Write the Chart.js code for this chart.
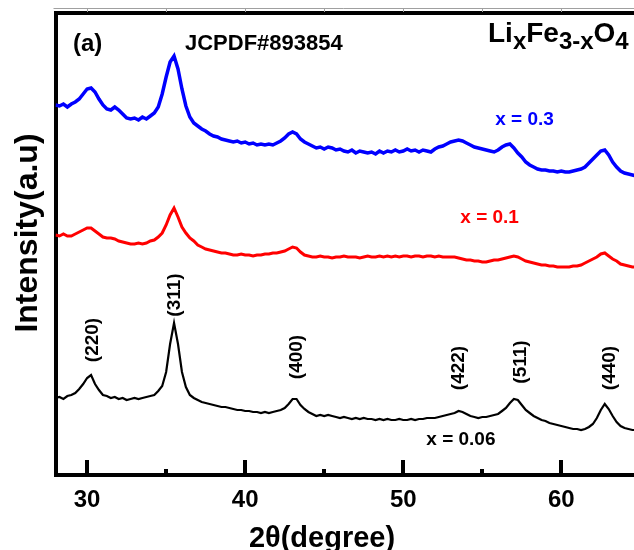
<!DOCTYPE html>
<html>
<head>
<meta charset="utf-8">
<script src="https://cdn.jsdelivr.net/npm/chart.js@4.4.1/dist/chart.umd.min.js"></script>
<style>
  html, body { margin: 0; padding: 0; background: #fff; }
  #wrap { width: 634px; height: 550px; }
</style>
</head>
<body>
<div id="wrap"><canvas id="xrd" width="634" height="550"></canvas></div>
<script>
// 2theta grid (degree), one row per degree
var twoTheta = [
  28, 28.25, 28.5, 28.75,  29, 29.25, 29.5, 29.75,  30, 30.25, 30.5, 30.75,
  31, 31.25, 31.5, 31.75,  32, 32.25, 32.5, 32.75,  33, 33.25, 33.5, 33.75,
  34, 34.25, 34.5, 34.75,  35, 35.25, 35.5, 35.75,  36, 36.25, 36.5, 36.75,
  37, 37.25, 37.5, 37.75,  38, 38.25, 38.5, 38.75,  39, 39.25, 39.5, 39.75,
  40, 40.25, 40.5, 40.75,  41, 41.25, 41.5, 41.75,  42, 42.25, 42.5, 42.75,
  43, 43.25, 43.5, 43.75,  44, 44.25, 44.5, 44.75,  45, 45.25, 45.5, 45.75,
  46, 46.25, 46.5, 46.75,  47, 47.25, 47.5, 47.75,  48, 48.25, 48.5, 48.75,
  49, 49.25, 49.5, 49.75,  50, 50.25, 50.5, 50.75,  51, 51.25, 51.5, 51.75,
  52, 52.25, 52.5, 52.75,  53, 53.25, 53.5, 53.75,  54, 54.25, 54.5, 54.75,
  55, 55.25, 55.5, 55.75,  56, 56.25, 56.5, 56.75,  57, 57.25, 57.5, 57.75,
  58, 58.25, 58.5, 58.75,  59, 59.25, 59.5, 59.75,  60, 60.25, 60.5, 60.75,
  61, 61.25, 61.5, 61.75,  62, 62.25, 62.5, 62.75,  63, 63.25, 63.5, 63.75,
  64, 64.25, 64.5, 64.75
];

// intensity (a.u.), stacked offsets as in the figure
var intensityX006 = [
  77, 78, 76, 79,  80, 82, 86, 91,  97, 100, 91, 85,
  80, 79, 77, 78,  76, 77, 75, 76,  77, 76, 77, 78,
  79, 80, 84, 89,  103, 131, 152, 131,  103, 88, 80, 77,
  75, 73, 72, 71,  70, 69, 68, 68,  67, 66, 65, 65,
  64, 64, 63, 63,  62, 63, 62, 63,  64, 65, 67, 71,
  76, 76, 70, 66,  63, 61, 59, 60,  59, 60, 59, 58,
  57, 58, 57, 56,  57, 56, 57, 56,  56, 55, 56, 55,
  56, 55, 55, 56,  55, 55, 56, 55,  56, 56, 57, 57,
  57, 58, 59, 60,  61, 62, 64, 63,  61, 59, 58, 57,
  58, 58, 59, 60,  61, 64, 67, 72,  76, 75, 70, 65,
  62, 59, 57, 55,  54, 52, 51, 50,  49, 48, 47, 46,
  46, 45, 46, 48,  51, 57, 65, 71,  66, 59, 53, 49,
  47, 46, 45, 45
];

var intensityX01 = [
  240, 239, 241, 239,  239, 241, 243, 245,  247, 247, 244, 241,
  238, 237, 237, 236,  234, 233, 232, 231,  231, 232, 231, 232,
  234, 235, 238, 242,  250, 260, 267, 258,  248, 242, 237, 234,
  230, 228, 226, 225,  224, 223, 222, 222,  221, 220, 220, 221,
  220, 220, 219, 220,  220, 221, 221, 222,  222, 223, 224, 226,
  228, 227, 223, 220,  219, 218, 218, 219,  218, 218, 217, 218,
  218, 219, 218, 218,  218, 217, 218, 219,  218, 218, 219, 218,
  219, 218, 219, 218,  219, 219, 218, 219,  219, 218, 219, 219,
  218, 219, 218, 218,  218, 218, 217, 216,  215, 215, 214, 214,
  213, 213, 214, 215,  215, 216, 217, 218,  219, 218, 216, 214,
  213, 212, 211, 210,  210, 209, 209, 208,  208, 208, 208, 209,
  209, 210, 212, 214,  216, 218, 221, 222,  219, 216, 214, 211,
  210, 209, 208, 208
];

var intensityX03 = [
  370, 369, 371, 368,  371, 373, 376, 381,  386, 387, 383, 376,
  370, 366, 365, 368,  365, 361, 357, 356,  357, 355, 358, 356,
  359, 362, 368, 381,  398, 413, 419, 406,  386, 369, 358, 352,
  349, 346, 344, 341,  339, 338, 336, 335,  334, 333, 334, 332,
  333, 331, 332, 330,  331, 330, 331, 330,  332, 334, 337, 341,
  343, 341, 336, 333,  331, 329, 327, 328,  326, 328, 327, 325,
  326, 324, 323, 325,  322, 324, 323, 322,  323, 321, 324, 322,
  324, 323, 325, 323,  324, 326, 324, 325,  323, 325, 324, 323,
  326, 328, 329, 331,  333, 334, 335, 334,  332, 330, 328, 327,
  326, 325, 324, 323,  325, 328, 330, 331,  327, 322, 318, 313,
  310, 308, 306, 305,  305, 304, 304, 303,  304, 303, 303, 304,
  305, 306, 308, 312,  316, 320, 324, 325,  320, 313, 308, 304,
  302, 301, 300, 299
];

var seriesNames = ['x = 0.06', 'x = 0.1', 'x = 0.3'];
var seriesColors = ['#000000', '#ff0000', '#0000ff'];
var xTickValues = [30, 40, 50, 60];
var xMinorTicks = [35, 45, 55];
var peakNames = ['(220)', '(311)', '(400)', '(422)', '(511)', '(440)'];
var peakAngles = [30.38, 35.57, 43.29, 53.54, 57.41, 63.04];

var fontFamily = '"Liberation Sans", Arial, Helvetica, sans-serif';

function toPoints(ys) {
  return twoTheta.map(function (t, i) { return { x: t, y: ys[i] }; });
}

function drawText(ctx, str, x, y, font, color, align, baseline, rotate) {
  ctx.save();
  ctx.font = font;
  ctx.fillStyle = color;
  ctx.textAlign = align;
  ctx.textBaseline = baseline;
  ctx.translate(x, y);
  if (rotate) ctx.rotate(rotate);
  ctx.fillText(str, 0, 0);
  ctx.restore();
}

//ticks, labels and the rest of the annotations
var decorations = {
  id: 'decorations',
  afterDraw: function (chart) {
    var ctx = chart.ctx;
    var xs = chart.scales.x;
    var ys = chart.scales.y;
    var area = chart.chartArea;

    // inward tick marks on the bottom axis
    ctx.save();
    ctx.strokeStyle = '#000';
    ctx.lineWidth = 4;
    xTickValues.forEach(function (v) {
      var px = Math.round(xs.getPixelForValue(v));
      ctx.beginPath();
      ctx.moveTo(px, area.bottom);
      ctx.lineTo(px, area.bottom - 15);
      ctx.stroke();
    });
    xMinorTicks.forEach(function (v) {
      var px = Math.round(xs.getPixelForValue(v));
      ctx.beginPath();
      ctx.moveTo(px, area.bottom);
      ctx.lineTo(px, area.bottom - 6);
      ctx.stroke();
    });

    // faint line above the top frame
    ctx.strokeStyle = '#a0a0a0';
    ctx.lineWidth = 1;
    ctx.beginPath();
    ctx.moveTo(area.left - 2, 8.5);
    ctx.lineTo(chart.width, 8.5);
    ctx.stroke();
    xTickValues.concat(xMinorTicks).forEach(function (v) {
      var px = Math.round(xs.getPixelForValue(v)) + 0.5;
      ctx.beginPath();
      ctx.moveTo(px, 8.5);
      ctx.lineTo(px, 12);
      ctx.stroke();
    });
    ctx.restore();

    // axis titles
    drawText(ctx, '2θ(degree)', 322, 547, 'bold 29px ' + fontFamily, '#000', 'center', 'alphabetic');
    drawText(ctx, 'Intensity(a.u)', 37, 233, 'bold 32px ' + fontFamily, '#000', 'center', 'alphabetic', -Math.PI / 2);

    // header texts
    drawText(ctx, '(a)', 73, 51, 'bold 24px ' + fontFamily, '#000', 'left', 'alphabetic');
    drawText(ctx, 'JCPDF#893854', 185, 50, 'bold 22px ' + fontFamily, '#000', 'left', 'alphabetic');

    // Li_x Fe_3-x O_4
    var parts = [['Li', 28, 0], ['x', 24, 7], ['Fe', 28, 0], ['3-x', 24, 7], ['O', 28, 0], ['4', 24, 7]];
    var cx = 488;
    ctx.save();
    parts.forEach(function (p) {
      ctx.font = 'bold ' + p[1] + 'px ' + fontFamily;
      ctx.fillStyle = '#000';
      ctx.textAlign = 'left';
      ctx.textBaseline = 'alphabetic';
      ctx.fillText(p[0], cx, 42 + p[2]);
      cx += ctx.measureText(p[0]).width;
    });
    ctx.restore();

    // series labels
    var seriesLabelAt = [[51.46, 30], [53.61, 252], [55.82, 350]];
    seriesNames.forEach(function (name, i) {
      drawText(ctx, name, xs.getPixelForValue(seriesLabelAt[i][0]), ys.getPixelForValue(seriesLabelAt[i][1]),
        'bold 19px ' + fontFamily, seriesColors[i], 'left', 'alphabetic');
    });

    // peak (hkl) labels, rotated
    var peakLabelLevel = [135, 180, 118, 107, 113, 107];
    peakNames.forEach(function (name, i) {
      drawText(ctx, name, xs.getPixelForValue(peakAngles[i]), ys.getPixelForValue(peakLabelLevel[i]),
        'bold 19px ' + fontFamily, '#000', 'center', 'middle', -Math.PI / 2);
    });
  }
};

var ctx = document.getElementById('xrd').getContext('2d');
var xrdChart = new Chart(ctx, {
  type: 'line',
  data: {
    datasets: [
      { label: seriesNames[0], data: toPoints(intensityX006), borderColor: seriesColors[0], borderWidth: 2.2, pointRadius: 0, tension: 0, fill: false },
      { label: seriesNames[1], data: toPoints(intensityX01), borderColor: seriesColors[1], borderWidth: 3, pointRadius: 0, tension: 0, fill: false },
      { label: seriesNames[2], data: toPoints(intensityX03), borderColor: seriesColors[2], borderWidth: 3.5, pointRadius: 0, tension: 0, fill: false }
    ]
  },
  options: {
    responsive: false,
    animation: false,
    devicePixelRatio: 1,
    layout: { padding: { top: 13, left: 0, right: 0, bottom: 0 } },
    plugins: { legend: { display: false }, tooltip: { enabled: false } },
    scales: {
      x: {
        type: 'linear', position: 'bottom', min: 28, max: 64.6,
        grid: { display: false },
        border: { display: true, color: '#000', width: 4 },
        afterBuildTicks: function (s) { s.ticks = xTickValues.map(function (v) { return { value: v }; }); },
        ticks: { color: '#000', padding: 3, maxRotation: 0, autoSkip: false, font: { family: fontFamily, size: 24, weight: 'bold' } },
        afterFit: function (s) { s.height = 75; }
      },
      xTop: {
        type: 'linear', position: 'top', min: 28, max: 64.6,
        grid: { display: false },
        border: { display: true, color: '#000', width: 4 },
        ticks: { display: false },
        afterFit: function (s) { s.height = 0; }
      },
      y: {
        min: 0, max: 462,
        grid: { display: false },
        border: { display: true, color: '#000', width: 4 },
        ticks: { display: false },
        afterFit: function (s) { s.width = 55.5; }
      }
    }
  },
  plugins: [decorations]
});
</script>
</body>
</html>
